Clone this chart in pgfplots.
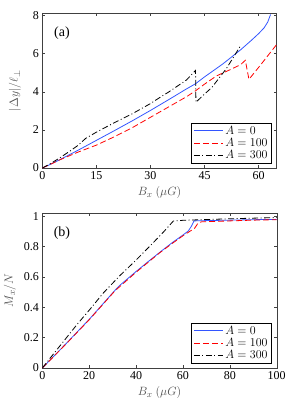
\documentclass[border=0pt]{standalone}
\usepackage{fontspec}
\setmainfont{Liberation Serif}
\usepackage{pgfplots}
\pgfplotsset{compat=1.18}
\definecolor{mblue}{RGB}{51,85,255}
\pgfplotsset{
  mystyle/.style={
    scale only axis, width=234.4pt, height=155pt,
    axis line style={black!75}, tick style={black!75, line width=0.4pt},
    tick align=inside, major tick length=3pt,
    ticklabel style={font=\fontsize{12}{14}\selectfont},
    /pgf/number format/assume math mode=true,
    label style={font=\fontsize{12.5}{15}\selectfont, text=black!70},
    xlabel style={at={(axis description cs:0.5,-0.161)}, anchor=center},
    legend style={at={(axis description cs:0.979,0.03)}, anchor=south east,
      font=\fontsize{12}{13}\selectfont,
      inner xsep=2pt, inner ysep=1pt, row sep=-1.5pt},
    legend cell align=left,
  },
  sA/.style={color=mblue, line width=0.8pt, solid},
  sB/.style={color=red, line width=0.8pt, dash pattern=on 6pt off 3pt},
  sC/.style={color=black, line width=0.8pt, dash pattern=on 6pt off 2.5pt on 1pt off 2.5pt},
  lA/.style={legend image code/.code={\draw[mblue, line width=1pt] (0pt,0pt) -- (29pt,0pt);}},
  lB/.style={legend image code/.code={\draw[red, line width=1.1pt, dash pattern=on 6pt off 3pt] (0pt,0pt) -- (29pt,0pt);}},
  lC/.style={legend image code/.code={\draw[black, line width=0.9pt, dash pattern=on 6pt off 2.5pt on 1pt off 2.5pt] (0pt,0pt) -- (29pt,0pt);}},
}
\begin{document}
\begin{tikzpicture}
\useasboundingbox (-42.3pt,-239pt) rectangle (248.7pt,168pt);
\begin{axis}[mystyle,
  xmin=0, xmax=65, ymin=0, ymax=8.13,
  xtick={0,15,30,45,60}, ytick={0,2,4,6,8},
  xlabel={$B_x\ (\mu G)$},
  ylabel={$|\Delta y|/\ell_\perp$},
  ylabel style={at={(axis description cs:-0.1165,0.5)}, anchor=center},
]
\addlegendimage{lA}\addlegendentry{$A=0$}
\addlegendimage{lB}\addlegendentry{$A=100$}
\addlegendimage{lC}\addlegendentry{$A=300$}
\addplot[sA, forget plot] coordinates {(0,0) (2,0.17) (5,0.45) (10,0.94) (15,1.45) (20,1.96) (25,2.48) (30,3.02) (35,3.58) (40,4.15) (42.5,4.42) (45,4.78) (50,5.45) (53,5.9) (55,6.2) (58,6.7) (60,7.05) (61.5,7.35) (62.5,7.65) (63.3,8.05)};
\addplot[sB, forget plot] coordinates {(0,0) (2,0.17) (5,0.44) (10,0.84) (15,1.2) (20,1.64) (25,2.12) (30,2.66) (35,3.2) (40,3.74) (42.5,4.05) (45,4.4) (48.3,4.83) (52,5.15) (55,5.42) (56.3,5.65) (57.3,4.65) (60,5.28) (65,6.48)};
\addplot[sC, forget plot] coordinates {(0,0) (2,0.2) (5,0.55) (8,0.93) (10,1.2) (12,1.55) (15,1.88) (20,2.38) (25,2.85) (30,3.38) (32.6,3.7) (35,3.98) (40,4.62) (42.5,5.12) (42.6,3.45) (45,3.88) (47,4.22) (51,5.2) (55,6.42)};
\node[font=\fontsize{14}{16}\selectfont] at (axis description cs:0.084,0.871) {(a)};
\end{axis}
\begin{axis}[mystyle, at={(0pt,-200pt)},
  xmin=0, xmax=100, ymin=0, ymax=1.02,
  xtick={0,20,40,60,80,100}, ytick={0,0.2,0.4,0.6,0.8,1},
  xlabel={$B_x\ (\mu G)$},
  ylabel={$M_x/N$},
  ylabel style={at={(axis description cs:-0.138,0.5)}, anchor=center},
]
\addlegendimage{lA}\addlegendentry{$A=0$}
\addlegendimage{lB}\addlegendentry{$A=100$}
\addlegendimage{lC}\addlegendentry{$A=300$}
\addplot[sA, forget plot] coordinates {(0,0) (5,0.079) (10,0.158) (20,0.32) (31,0.511) (33,0.543) (40,0.635) (45,0.698) (50,0.76) (55,0.82) (60,0.875) (62.3,0.902) (63.7,0.935) (64.7,0.968) (70,0.970) (80,0.973) (90,0.976) (100,0.978)};
\addplot[sB, forget plot] coordinates {(0,0) (5,0.078) (10,0.156) (20,0.317) (31,0.508) (40,0.63) (50,0.757) (55,0.815) (60,0.87) (63,0.9) (65,0.92) (66.5,0.955) (68,0.962) (80,0.968) (90,0.973) (100,0.976)};
\addplot[sC, forget plot] coordinates {(0,0) (5,0.097) (9,0.174) (15,0.29) (20,0.38) (26,0.493) (33.1,0.608) (40,0.71) (43,0.757) (47.4,0.826) (52,0.9) (55.9,0.967) (60,0.972) (70,0.977) (80,0.982) (90,0.986) (100,0.99)};
\node[font=\fontsize{14}{16}\selectfont] at (axis description cs:0.084,0.871) {(b)};
\end{axis}
\end{tikzpicture}
\end{document}
